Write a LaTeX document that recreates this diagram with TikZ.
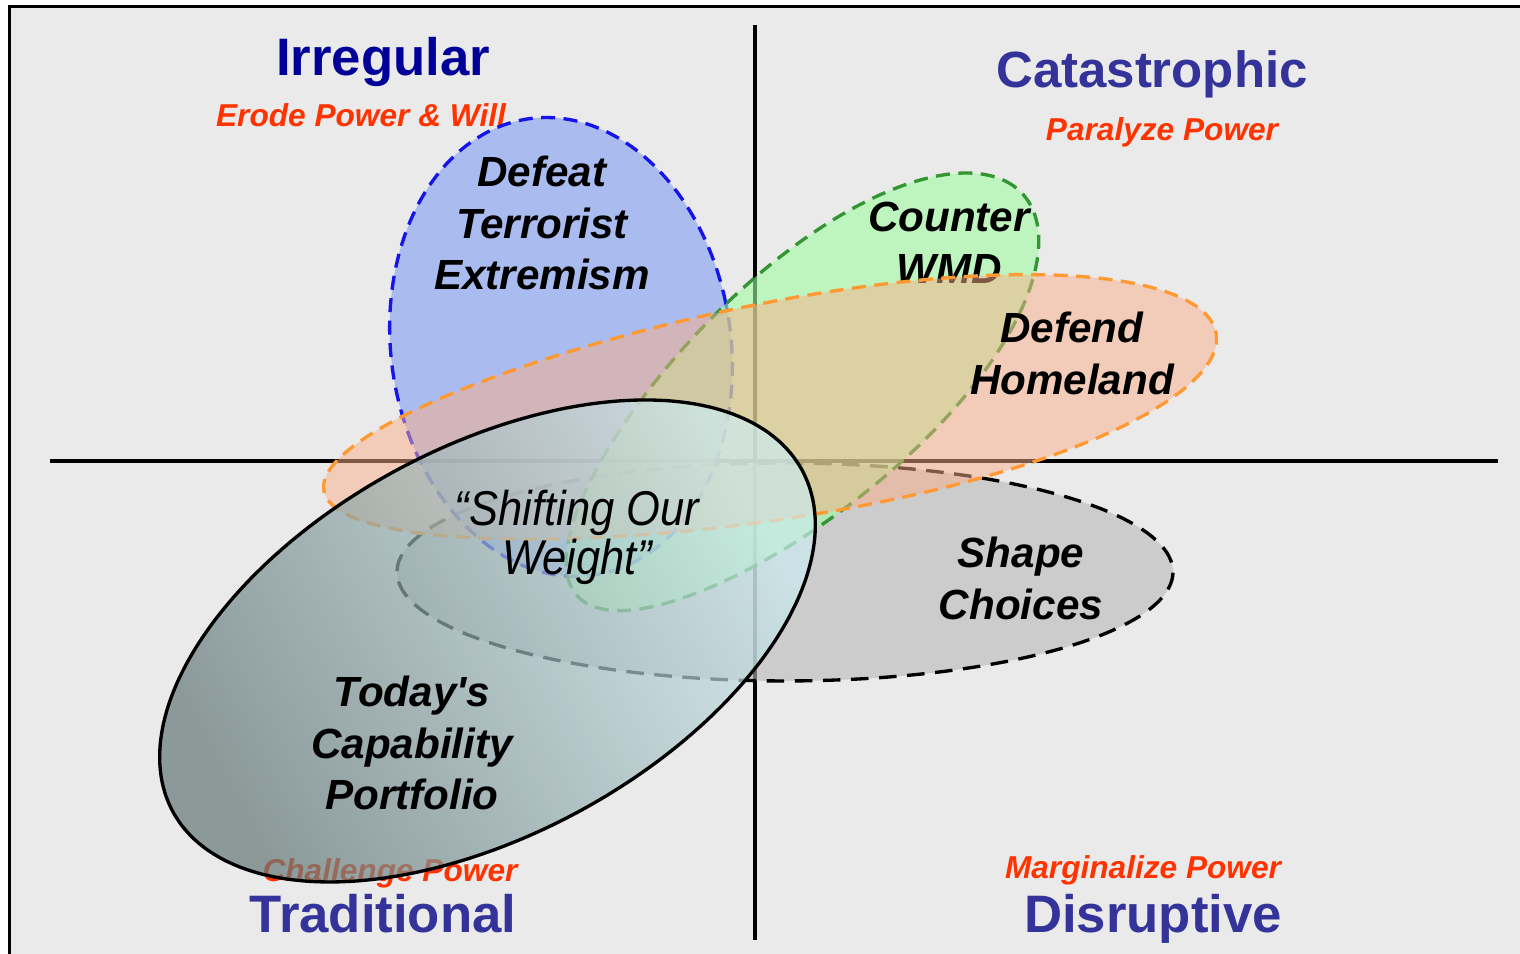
\documentclass[tikz,border=0pt]{standalone}
\usepackage{fontspec}
\setmainfont{Liberation Sans}

\definecolor{panelgray}{HTML}{EAEAEA}
\definecolor{titleblue}{HTML}{333399}
\definecolor{navyblue}{HTML}{000099}
\definecolor{threatred}{HTML}{FF3300}
\definecolor{bluefill}{RGB}{143,168,243}
\definecolor{blueline}{RGB}{20,20,235}
\definecolor{greenfill}{RGB}{161,251,161}
\definecolor{greenline}{RGB}{51,150,51}
\definecolor{orangefill}{RGB}{250,176,136}
\definecolor{orangeline}{RGB}{255,153,51}
\definecolor{grayfill}{RGB}{185,185,185}
\definecolor{darkshade}{RGB}{100,120,120}
\definecolor{lightshade}{RGB}{205,235,240}

\newcommand{\narrowtext}[1]{\scalebox{0.89}[1]{#1}}

\begin{document}
\begin{tikzpicture}[
        quadrant/.style={font=\bfseries\fontsize{15}{18}\selectfont,text=titleblue,anchor=base,inner sep=0pt},
        threat/.style={font=\bfseries\itshape\fontsize{9}{11}\selectfont,text=threatred,anchor=base,inner sep=0pt},
        mission/.style={font=\bfseries\itshape\fontsize{12}{14.7}\selectfont,align=center,inner sep=0pt},
        petal/.style={line width=0.95pt,dash pattern=on 4pt off 2.4pt,fill opacity=#1}]
        \useasboundingbox (0,0) rectangle (15.2,9.54);
        \clip (0,0) rectangle (15.2,9.54);
        \fill[white] (0,0) rectangle (15.2,9.54);
        \draw[fill=panelgray,line width=1.1pt] (0.095,-0.5) rectangle (15.8,9.475);

        \draw[line width=1pt] (0.50,4.93) -- (14.98,4.93);
        \draw[line width=1pt] (7.55,0.14) -- (7.55,9.29);

        \node[quadrant,text=navyblue] (irregular) at (3.83,8.78) {Irregular};
        \node[threat] (erode) at (3.61,8.27) {Erode Power \& Will};
        \node[quadrant,font=\bfseries\fontsize{14.5}{17}\selectfont] (catastrophic) at (11.52,8.66) {Catastrophic};
        \node[threat] (paralyze) at (11.62,8.13) {Paralyze Power};
        \node[threat] (challenge) at (3.90,0.72) {Challenge Power};
        \node[quadrant] (traditional) at (3.83,0.21) {Traditional};
        \node[threat] (marginalize) at (11.43,0.75) {Marginalize Power};
        \node[quadrant] (disruptive) at (11.53,0.21) {Disruptive};

        \draw [petal=0.6,draw=black,fill=grayfill,dash pattern=on 5pt off 3pt,shift={(7.85,3.82)}] plot[variable=\t,domain=0:355,smooth cycle,samples=72]
         ({3.88*cos(\t)},{1.09*sin(\t)});
        \node[mission] (choices) at (10.21,3.755) {Shape\\Choices};

        \draw [petal=0.7,draw=blueline,fill=bluefill,shift={(5.61,6.07)},rotate=8] plot[variable=\t,domain=0:355,smooth cycle,samples=72]
         ({1.70*cos(\t)},{2.305*sin(\t)});
        \node[mission] (terror) at (5.42,7.31) {Defeat\\Terrorist\\Extremism};

        \draw [petal=0.6,draw=greenline,fill=greenfill,shift={(8.00,5.59)},rotate=42] plot[variable=\t,domain=0:355,smooth cycle,samples=72]
         ({3.00*cos(\t)},{1.17*sin(\t)*(1+0.1*cos(\t))});
        \node[mission] (wmd) at (9.49,7.115) {Counter\\WMD};

        \draw [petal=0.5,draw=orangeline,fill=orangefill,shift={(7.70,5.42)},rotate=10] plot[variable=\t,domain=0:355,smooth cycle,samples=72]
         ({4.53*cos(\t)},{1.08*sin(\t)*(1+0.1*cos(\t))});
        \node[mission] (homeland) at (10.72,6.005) {Defend\\Homeland};

        \shade [draw=black,line width=0.95pt,fill opacity=0.7,left color=darkshade,right color=lightshade,shading angle=118.5,shift={(4.875,3.13)},rotate=28.5] plot[variable=\t,domain=0:355,smooth cycle,samples=72]
         ({3.58*cos(\t)},{1.935*sin(\t)});
        \node[mission] (portfolio) at (4.12,2.11) {Today\textquotesingle s\\Capability\\Portfolio};

        \node[align=center,inner sep=0pt,font=\itshape\fontsize{13.9}{12.5}\selectfont] (shifting) at (5.77,4.17) {\narrowtext{“Shifting Our}\\\narrowtext{Weight”}};
       \end{tikzpicture}
\end{document}
